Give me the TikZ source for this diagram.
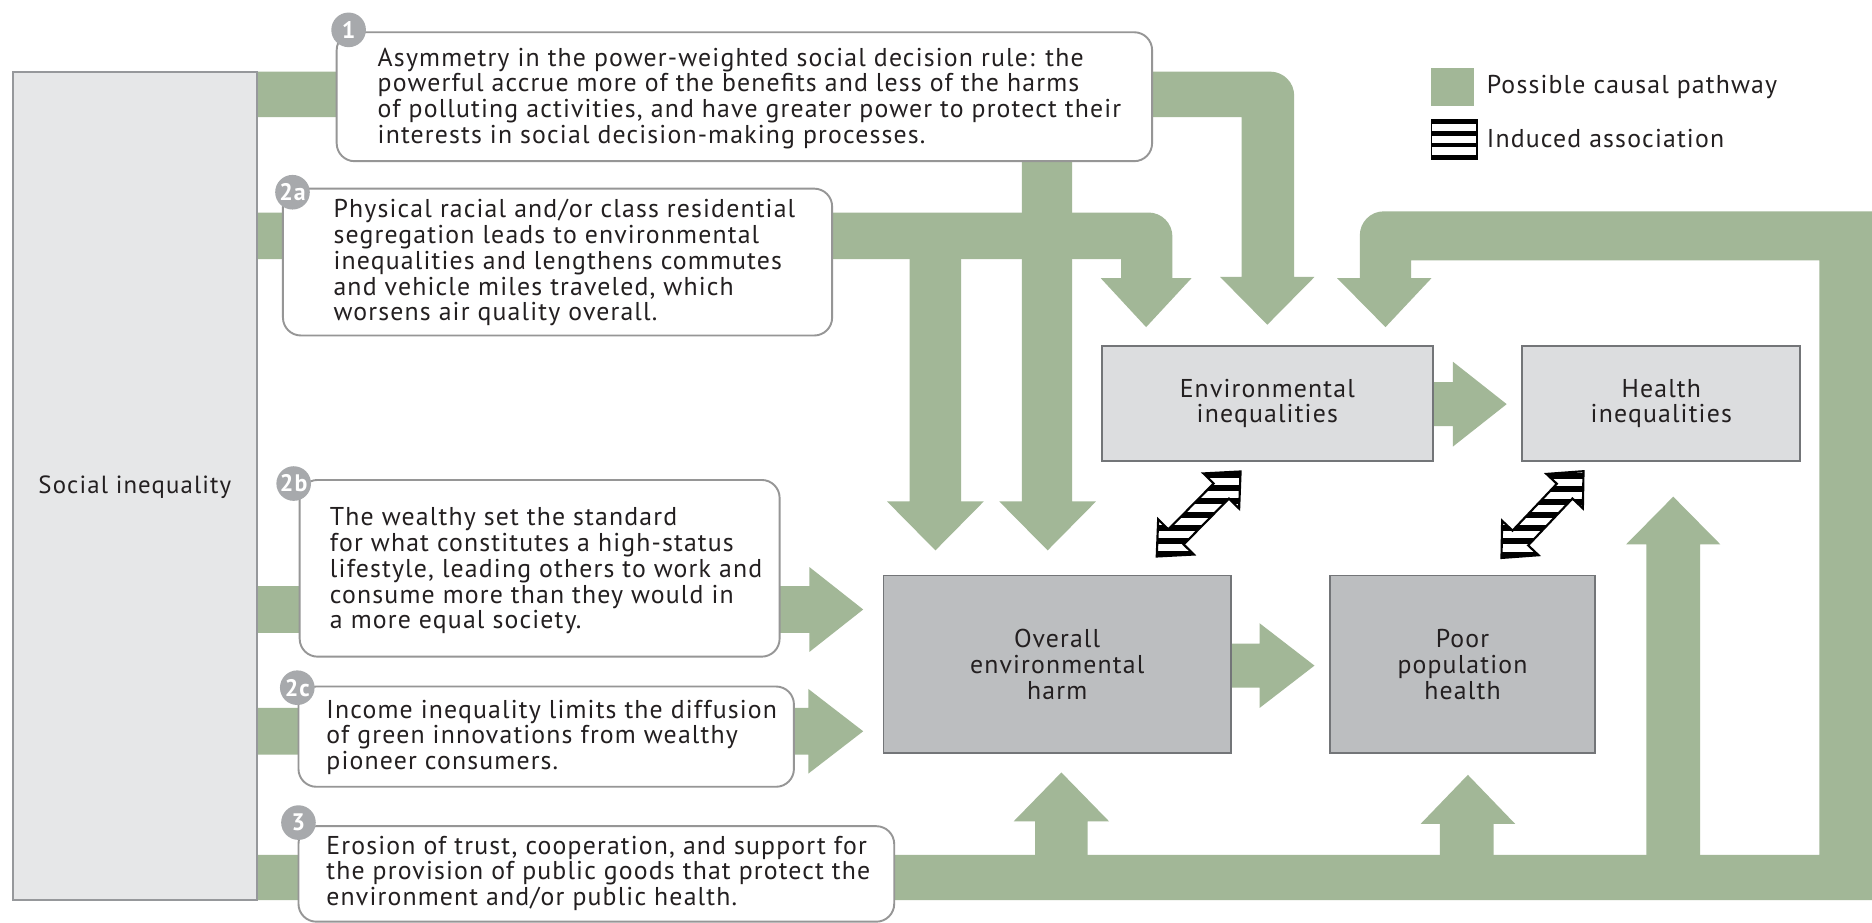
\documentclass[tikz,border=0pt]{standalone}
\usepackage{fontspec}
\setmainfont{PT Sans}[LetterSpace=4.5]
\usetikzlibrary{fit}
\lineskiplimit=-10pt
\definecolor{pathgreen}{RGB}{162,183,151}
\definecolor{txtcol}{RGB}{35,31,32}
\definecolor{siboxfill}{RGB}{230,231,232}
\definecolor{siboxline}{RGB}{150,152,155}
\definecolor{lightfill}{RGB}{220,221,223}
\definecolor{darkfill}{RGB}{188,190,192}
\definecolor{boxline}{RGB}{115,117,120}
\definecolor{badgefill}{RGB}{167,169,172}
\definecolor{frameline}{RGB}{150,150,150}
\tikzset{
  green path/.style={fill=pathgreen},
  textbox/.style={draw=frameline, fill=white, line width=0.8pt, rounded corners=7.5pt, inner sep=0pt},
  socialbox/.style={draw=siboxline, fill=siboxfill, line width=0.8pt, inner sep=0pt},
  lightbox/.style={draw=boxline, fill=lightfill, line width=0.8pt, inner sep=0pt},
  darkbox/.style={draw=boxline, fill=darkfill, line width=0.8pt, inner sep=0pt},
  boxlabel/.style={inner sep=0pt, align=center, text=txtcol, font=\fontsize{10.8}{10.8}\selectfont},
  bodytext/.style={anchor=north west, inner sep=0pt, align=left, text=txtcol, font=\fontsize{10.8}{10.8}\selectfont},
  badge/.style={circle, fill=badgefill, text=white, inner sep=0pt, minimum size=14.5pt, font=\bfseries\fontsize{10}{10}\selectfont},
  legendtext/.style={anchor=west, inner sep=0pt, text=txtcol, font=\fontsize{10.8}{10.8}\selectfont},
  hatchline/.style={draw=black, line width=0.9pt, line join=miter},
}
\begin{document}
\begin{tikzpicture}[x=0.5pt, y=-0.5pt]
\useasboundingbox (0,0) rectangle (1568,773);
\fill[white] (0,0) rectangle (1568,773);

% ---------- green causal pathways ----------
% pathway 1 (right branch, to environmental inequalities)
\fill[green path] (215,60) -- (1064,60) .. controls (1075,60) and (1084,69) .. (1084,80)
  -- (1084,232) -- (1101,232) -- (1061.5,272) -- (1022,232) -- (1040,232) -- (1040,98) -- (215,98) -- cycle;
% pathway 1 (down branch, to overall harm)
\fill[green path] (856,100) -- (898,100) -- (898,420) -- (918,420) -- (877.5,461) -- (837,420) -- (856,420) -- cycle;
% pathway 2a (right branch)
\fill[green path] (215,178) -- (962,178) .. controls (973,178) and (982,187) .. (982,198)
  -- (982,233) -- (998,233) -- (960,274) -- (922,233) -- (939,233) -- (939,217) -- (215,217) -- cycle;
% pathway 2a (down branch)
\fill[green path] (762,200) -- (805,200) -- (805,420) -- (824,420) -- (783.5,461) -- (743,420) -- (762,420) -- cycle;
% pathway 2b
\fill[green path] (215,491) -- (678,491) -- (678,475) -- (723,510.5) -- (678,546) -- (678,530) -- (215,530) -- cycle;
% pathway 2c
\fill[green path] (215,593) -- (677,593) -- (677,577) -- (723,612.5) -- (677,648) -- (677,632) -- (215,632) -- cycle;
% pathway 3 (loop)
\fill[green path] (215,754) -- (1568,754) -- (1568,177) -- (1159,177) .. controls (1148,177) and (1139,186) .. (1139,197)
  -- (1139,233) -- (1120,233) -- (1160.5,274) -- (1199,233) -- (1182,233) -- (1182,218) -- (1524,218) -- (1524,716) -- (215,716) -- cycle;
% pathway 3 up arrows
\fill[green path] (867,720) -- (867,688) -- (849,688) -- (889,647) -- (929,688) -- (911,688) -- (911,720) -- cycle;
\fill[green path] (1206,720) -- (1206,690) -- (1190,690) -- (1229.5,649) -- (1269,690) -- (1251,690) -- (1251,720) -- cycle;
\fill[green path] (1379,720) -- (1379,456) -- (1362,456) -- (1401.5,416) -- (1441,456) -- (1424,456) -- (1424,720) -- cycle;
% box to box arrows
\fill[green path] (1195,320) -- (1217,320) -- (1217,303) -- (1262,338.5) -- (1217,374) -- (1217,357) -- (1195,357) -- cycle;
\fill[green path] (1025,539) -- (1055,539) -- (1055,522) -- (1101,557.5) -- (1055,593) -- (1055,576) -- (1025,576) -- cycle;

% ---------- boxes ----------
\node[socialbox, fit={(11,60) (215,754)}] (social) {};
\node[boxlabel, font=\fontsize{10.4}{10.8}\selectfont] (socialtext) at (113,408) {Social inequality};

\node[textbox, fit={(282,27) (965,135)}] (box1) {};
\node[textbox, fit={(237,158) (697,281)}] (box2a) {};
\node[textbox, fit={(251,402) (653,550)}] (box2b) {};
\node[textbox, fit={(250,575) (665,659)}] (box2c) {};
\node[textbox, fit={(250,692) (749,772)}] (box3) {};

\node[lightbox, fit={(923,290) (1200,386)}] (env) {};
\node[boxlabel] (envtext) at (env.center) {Environmental\\inequalities};
\node[lightbox, fit={(1275,290) (1508,386)}] (health) {};
\node[boxlabel] (healthtext) at (health.center) {Health\\inequalities};
\node[darkbox, fit={(740,482) (1031,631)}] (harm) {};
\node[boxlabel] (harmtext) at (harm.center) {Overall\\environmental\\harm};
\node[darkbox, fit={(1114,482) (1336,631)}] (poor) {};
\node[boxlabel] (poortext) at (poor.center) {Poor\\population\\health};

% ---------- texts ----------
\node[bodytext] (t1) at (316,38) {\rule{0pt}{8.5pt}Asymmetry in the power-weighted social decision rule: the\\
powerful accrue more of the benefits and less of the harms\\
of polluting activities, and have greater power to protect their\\
interests in social decision-making processes.};
\node[bodytext] (t2a) at (279,165) {\rule{0pt}{8.5pt}Physical racial and/or class residential\\
segregation leads to environmental\\
inequalities and lengthens commutes\\
and vehicle miles traveled, which\\
worsens air quality overall.};
\node[bodytext] (t2b) at (276,423) {\rule{0pt}{8.5pt}The wealthy set the standard\\
for what constitutes a high-status\\
lifestyle, leading others to work and\\
consume more than they would in\\
a more equal society.};
\node[bodytext] (t2c) at (273,584) {\rule{0pt}{8.5pt}Income inequality limits the diffusion\\
of green innovations from wealthy\\
pioneer consumers.};
\node[bodytext] (t3) at (273,698) {\rule{0pt}{8.5pt}Erosion of trust, cooperation, and support for\\
the provision of public goods that protect the\\
environment and/or public health.};

% ---------- badges ----------
\node[badge] (n1) at (292,25) {1};
\node[badge] (n2a) at (245,161) {2a};
\node[badge] (n2b) at (246,405) {2b};
\node[badge] (n2c) at (249,576) {2c};
\node[badge] (n3) at (250,689) {3};

% ---------- induced associations (hatched double arrows) ----------
\foreach \cx/\cy/\ang [count=\i] in {1004/430.5/45.4, 1292/431/46.6} {
  \coordinate (assoc\i) at (\cx,\cy);
  \fill[white, shift={(\cx,\cy)}, rotate=\ang] (50,0) -- (27,21) -- (27,9) -- (-27,9) -- (-27,21) -- (-50,0) -- (-27,-21) -- (-27,-9) -- (27,-9) -- (27,-21) -- cycle;
  \begin{scope}
    \clip[shift={(\cx,\cy)}, rotate=\ang] (50,0) -- (27,21) -- (27,9) -- (-27,9) -- (-27,21) -- (-50,0) -- (-27,-21) -- (-27,-9) -- (27,-9) -- (27,-21) -- cycle;
    \foreach \k in {0,...,8} {
      \fill[black] (\cx-60,\cy-46+\k*11) rectangle ++(120,5);
    }
  \end{scope}
  \draw[hatchline, shift={(\cx,\cy)}, rotate=\ang] (50,0) -- (27,21) -- (27,9) -- (-27,9) -- (-27,21) -- (-50,0) -- (-27,-21) -- (-27,-9) -- (27,-9) -- (27,-21) -- cycle;
}

% ---------- legend ----------
\node[fill=pathgreen, inner sep=0pt, fit={(1199,57) (1235,89)}] (leggreen) {};
\node[legendtext] (leggreentext) at (1245,73) {Possible causal pathway};
\node[draw=black, line width=0.6pt, fill=white, inner sep=0pt, fit={(1199,100) (1237,133)}] (leghatch) {};
\fill[black] (1199,100) rectangle (1237,103.5);
\fill[black] (1199,110) rectangle (1237,113.5);
\fill[black] (1199,120) rectangle (1237,123.5);
\fill[black] (1199,129.5) rectangle (1237,133);
\node[legendtext] (leghatchtext) at (1245,116) {Induced association};
\end{tikzpicture}
\end{document}
